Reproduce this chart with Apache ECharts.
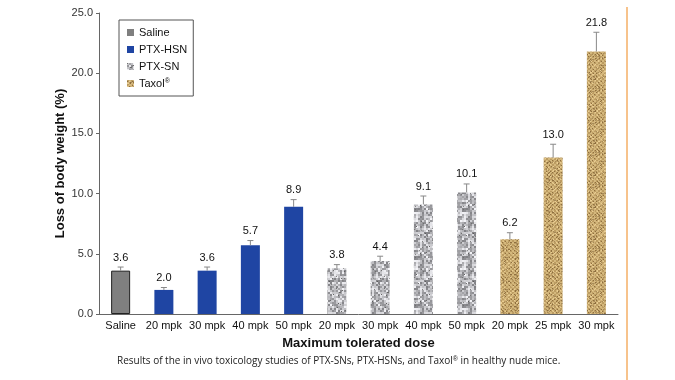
<!DOCTYPE html>
<html><head><meta charset="utf-8">
<script src="https://cdn.jsdelivr.net/npm/echarts@6/dist/echarts.min.js"></script>
<style>html,body{margin:0;padding:0;background:#fff}#c{width:675px;height:380px}</style>
</head><body><div id="c"></div>
<script>
const categories = ['Saline','20 mpk','30 mpk','40 mpk','50 mpk','20 mpk','30 mpk','40 mpk','50 mpk','20 mpk','25 mpk','30 mpk'];
const seriesNames = ['Saline','PTX-HSN','PTX-SN','Taxol'];
const salineValues = [3.6,null,null,null,null,null,null,null,null,null,null,null];
const hsnValues = [null,2.0,3.6,5.7,8.9,null,null,null,null,null,null,null];
const snValues = [null,null,null,null,null,3.8,4.4,9.1,10.1,null,null,null];
const taxolValues = [null,null,null,null,null,null,null,null,null,6.2,13.0,21.8];
const errors = [0.3,0.2,0.3,0.4,0.6,0.3,0.4,0.7,0.7,0.55,1.1,1.6];
const yTicks = [0,5,10,15,20,25];

function rng(seed){let s=seed;return ()=>{s=(s*1103515245+12345)&0x7fffffff;return s/0x7fffffff;};}
function noiseTex(){
  const c=document.createElement('canvas');c.width=48;c.height=48;const x=c.getContext('2d');
  const r=rng(7);
  for(let j=0;j<48;j+=2)for(let i=0;i<48;i+=2){const v=Math.floor(130+r()*115);x.fillStyle='rgb('+v+','+v+','+(v+4)+')';x.fillRect(i,j,2,2);}
  for(let k=0;k<60;k++){const v=Math.floor(90+r()*60);x.fillStyle='rgb('+v+','+v+','+v+')';x.fillRect(Math.floor(r()*48),Math.floor(r()*48),1,1);}
  return c;
}
function wovenTex(){
  const c=document.createElement('canvas');c.width=32;c.height=32;const x=c.getContext('2d');
  const r=rng(11);const img=x.createImageData(32,32);
  for(let j=0;j<32;j++)for(let i=0;i<32;i++){
    const k=(j*32+i)*4;
    const weave=((Math.floor(i/2)+Math.floor(j/2))%2===0)?1:0;
    const n=r();
    let R=212,G=184,B=125;
    if(weave){R=188;G=156;B=98;}
    if(n<0.15){R-=45;G-=45;B-=35;} else if(n>0.85){R+=22;G+=22;B+=22;}
    img.data[k]=R;img.data[k+1]=G;img.data[k+2]=B;img.data[k+3]=255;
  }
  x.putImageData(img,0,0);return c;
}
const snPattern={image:noiseTex(),repeat:'repeat'};
const taxPattern={image:wovenTex(),repeat:'repeat'};

const totals=categories.map((_,i)=>[salineValues,hsnValues,snValues,taxolValues].map(a=>a[i]).find(v=>v!=null));

const chart=echarts.init(document.getElementById('c'));
const barBase={type:'bar',barWidth:19,barGap:'-100%'};
chart.setOption({
  animation:false,
  textStyle:{fontFamily:'Liberation Sans, Arial, sans-serif'},
  grid:{left:99,right:57,top:13,bottom:66},
  legend:{
    left:119,top:20,orient:'vertical',itemWidth:7,itemHeight:7,itemGap:6,
    borderColor:'#555',borderWidth:1,padding:[7,6,7,8],
    icon:'rect',
    itemStyle:{borderWidth:0},
    data:seriesNames,
    formatter:n=>n==='Taxol'?'{a|Taxol}{s|®}':'{a|'+n+'}',
    textStyle:{color:'#111',fontSize:11,rich:{a:{fontSize:11,color:'#111'},s:{fontSize:7,color:'#111',verticalAlign:'top',padding:[0,0,4,0]}}}
  },
  xAxis:{type:'category',data:categories,
    axisLine:{lineStyle:{color:'#666',width:1}},
    axisTick:{inside:true,length:4,lineStyle:{color:'#666'}},
    axisLabel:{color:'#111',fontSize:11,margin:6,interval:0},
    name:'Maximum tolerated dose',nameLocation:'middle',nameGap:23,nameMoveOverlap:false,
    nameTextStyle:{fontWeight:'bold',fontSize:13,color:'#111'}},
  yAxis:{type:'value',min:0,max:25,interval:5,
    axisLine:{show:true,lineStyle:{color:'#666'}},
    axisTick:{show:true,length:3,lineStyle:{color:'#666'}},
    splitLine:{show:false},
    axisLabel:{color:'#333',fontSize:11,formatter:v=>v.toFixed(1),margin:6},
    name:'Loss of body weight (%)',nameLocation:'middle',nameGap:32,nameMoveOverlap:false,
    nameTextStyle:{fontWeight:'bold',fontSize:13,color:'#111'}},
  graphic:[
    {type:'line',shape:{x1:627,y1:7,x2:627,y2:380},style:{stroke:'#f7c38c',lineWidth:2}},
    {type:'text',left:117,top:356,style:{text:'Results of the in vivo toxicology studies of PTX-SNs, PTX-HSNs, and Taxol{s|®} in healthy nude mice.',font:'10px "Open Sans", sans-serif',fill:'#222',rich:{s:{fontSize:7,verticalAlign:'top',fill:'#222'}}}}
  ],
  series:[
    Object.assign({},barBase,{name:'Saline',data:salineValues,itemStyle:{color:'#7f7f7f',borderColor:'#222',borderWidth:1}}),
    Object.assign({},barBase,{name:'PTX-HSN',data:hsnValues,itemStyle:{color:'#1f45a3'}}),
    Object.assign({},barBase,{name:'PTX-SN',data:snValues,itemStyle:{color:snPattern}}),
    Object.assign({},barBase,{name:'Taxol',data:taxolValues,itemStyle:{color:taxPattern}}),
    {type:'custom',name:'err',silent:true,z:5,
      data:categories.map((_,i)=>[i,totals[i],errors[i]]),
      renderItem:(p,api)=>{
        const i=api.value(0),v=api.value(1),e=api.value(2);
        const b=api.coord([i,v]),t=api.coord([i,v+e]);
        return {type:'group',children:[
          {type:'line',shape:{x1:b[0],y1:b[1],x2:t[0],y2:t[1]},style:{stroke:'#888',lineWidth:1}},
          {type:'line',shape:{x1:t[0]-3,y1:t[1],x2:t[0]+3,y2:t[1]},style:{stroke:'#888',lineWidth:1}},
          {type:'text',x:t[0],y:t[1]-4,style:{text:v.toFixed(1),textAlign:'center',textVerticalAlign:'bottom',font:'11px "Liberation Sans", Arial, sans-serif',fill:'#111'}}
        ]};
      }}
  ]
});
</script></body></html>
